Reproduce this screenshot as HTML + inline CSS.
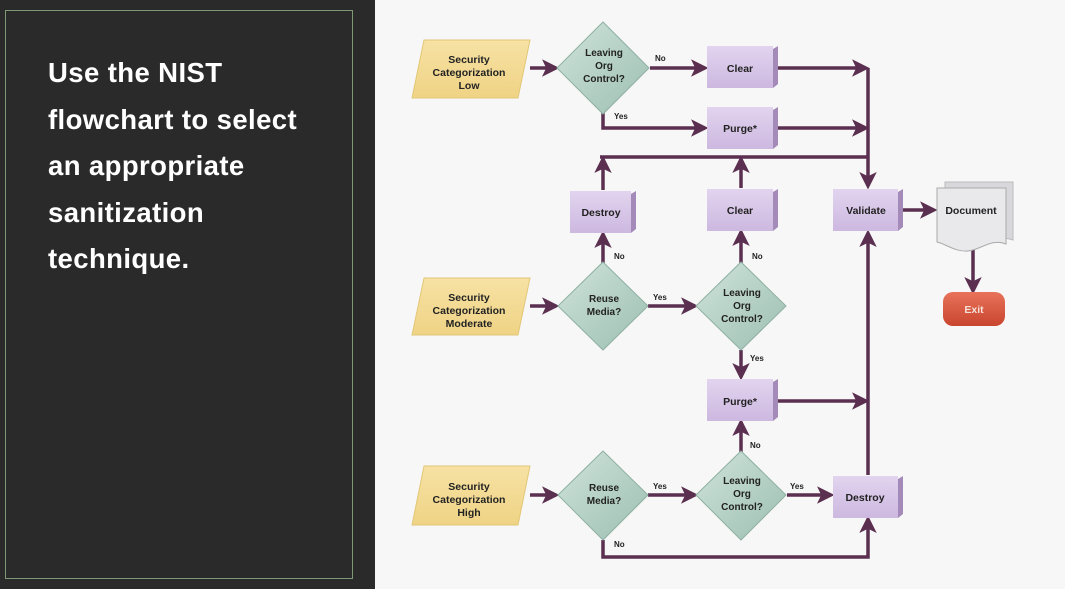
<!DOCTYPE html>
<html><head><meta charset="utf-8"><style>
html,body{margin:0;padding:0;width:1065px;height:589px;overflow:hidden;background:#f7f7f7}
#left{position:absolute;left:0;top:0;width:375px;height:589px;background:#2a2a2a}
#frame{position:absolute;left:5px;top:10px;width:346px;height:567px;border:1px solid #7d9a74}
#txt{position:absolute;left:48px;top:50px;color:#fff;font:bold 27.5px/46.5px "Liberation Sans",sans-serif;letter-spacing:0.4px}
svg{position:absolute;left:0;top:0}
text{font-family:"Liberation Sans",sans-serif;font-weight:bold;fill:#222}
</style></head><body>
<div id="left"><div id="frame"></div><div id="txt">Use the NIST<br>flowchart to select<br>an appropriate<br>sanitization<br>technique.</div></div>
<svg width="1065" height="589" viewBox="0 0 1065 589">
<defs>
<linearGradient id="pg" x1="0" y1="0" x2="0" y2="1"><stop offset="0" stop-color="#e2d4ef"/><stop offset="1" stop-color="#cdb8e0"/></linearGradient>
<linearGradient id="yg" x1="0" y1="0" x2="0" y2="1"><stop offset="0" stop-color="#f7e2a4"/><stop offset="1" stop-color="#efd385"/></linearGradient>
<linearGradient id="dg" x1="0" y1="0" x2="1" y2="1"><stop offset="0" stop-color="#cfe3da"/><stop offset="1" stop-color="#9dbfb2"/></linearGradient>
<linearGradient id="rg" x1="0" y1="0" x2="0" y2="1"><stop offset="0" stop-color="#e8735a"/><stop offset="1" stop-color="#c9452e"/></linearGradient>
<marker id="a" markerWidth="5" markerHeight="5" refX="4" refY="2.5" orient="auto" markerUnits="strokeWidth"><path d="M0,0 L5,2.5 L0,5 L1.2,2.5 z" fill="#5a2f50"/></marker>
</defs>
<g stroke="#5a2f50" stroke-width="3.5" fill="none">
<line x1="530" y1="68" x2="556" y2="68" marker-end="url(#a)"/>
<line x1="650" y1="68" x2="705" y2="68" marker-end="url(#a)"/>
<polyline points="603,112 603,128 705,128" marker-end="url(#a)"/>
<line x1="778" y1="68" x2="866" y2="68" marker-end="url(#a)"/>
<line x1="778" y1="128" x2="866" y2="128" marker-end="url(#a)"/>
<line x1="868" y1="68" x2="868" y2="186" marker-end="url(#a)"/>
<line x1="600" y1="157" x2="868" y2="157"/>
<line x1="603" y1="190" x2="603" y2="159" marker-end="url(#a)"/>
<line x1="741" y1="188" x2="741" y2="159" marker-end="url(#a)"/>
<line x1="903" y1="210" x2="934" y2="210" marker-end="url(#a)"/>
<line x1="973" y1="244" x2="973" y2="291" marker-end="url(#a)"/>
<line x1="868" y1="475" x2="868" y2="233" marker-end="url(#a)"/>
<line x1="530" y1="306" x2="556" y2="306" marker-end="url(#a)"/>
<line x1="603" y1="263" x2="603" y2="234" marker-end="url(#a)"/>
<line x1="648" y1="306" x2="695" y2="306" marker-end="url(#a)"/>
<line x1="741" y1="263" x2="741" y2="232" marker-end="url(#a)"/>
<line x1="741" y1="350" x2="741" y2="377" marker-end="url(#a)"/>
<line x1="778" y1="401" x2="866" y2="401" marker-end="url(#a)"/>
<line x1="530" y1="495" x2="556" y2="495" marker-end="url(#a)"/>
<line x1="648" y1="495" x2="695" y2="495" marker-end="url(#a)"/>
<line x1="741" y1="452" x2="741" y2="422" marker-end="url(#a)"/>
<line x1="787" y1="495" x2="831" y2="495" marker-end="url(#a)"/>
<polyline points="603,540 603,557 868,557 868,519" marker-end="url(#a)"/>
</g>
<g stroke="#e2c777" stroke-width="1">
<polygon points="424,40 530,40 518,98 412,98" fill="url(#yg)"/>
<polygon points="424,278 530,278 518,335 412,335" fill="url(#yg)"/>
<polygon points="424,466 530,466 518,525 412,525" fill="url(#yg)"/>
</g>
<g font-size="10.5" text-anchor="middle">
<text x="469" y="63">Security</text><text x="469" y="76">Categorization</text><text x="469" y="89">Low</text>
<text x="469" y="301">Security</text><text x="469" y="314">Categorization</text><text x="469" y="327">Moderate</text>
<text x="469" y="490">Security</text><text x="469" y="503">Categorization</text><text x="469" y="516">High</text>
</g>
<g fill="url(#dg)" stroke="#8fb0a3" stroke-width="1">
<polygon points="603,22 649,68 603,114 557,68"/>
<polygon points="603,262 648,306 603,350 558,306"/>
<polygon points="741,262 786,306 741,350 696,306"/>
<polygon points="603,451 648,495 603,540 558,495"/>
<polygon points="741,451 786,495 741,540 696,495"/>
</g>
<g font-size="10" text-anchor="middle">
<text x="604" y="56">Leaving</text><text x="604" y="69">Org</text><text x="604" y="82">Control?</text>
<text x="604" y="302">Reuse</text><text x="604" y="315">Media?</text>
<text x="742" y="296">Leaving</text><text x="742" y="309">Org</text><text x="742" y="322">Control?</text>
<text x="604" y="491">Reuse</text><text x="604" y="504">Media?</text>
<text x="742" y="484">Leaving</text><text x="742" y="497">Org</text><text x="742" y="510">Control?</text>
</g>
<g>
<g transform="translate(707,46)"><rect width="66" height="42" fill="url(#pg)"/><polygon points="66,3 71,0 71,38 66,42" fill="#a48ab9"/></g>
<g transform="translate(707,107)"><rect width="66" height="42" fill="url(#pg)"/><polygon points="66,3 71,0 71,38 66,42" fill="#a48ab9"/></g>
<g transform="translate(570,191)"><rect width="61" height="42" fill="url(#pg)"/><polygon points="61,3 66,0 66,38 61,42" fill="#a48ab9"/></g>
<g transform="translate(707,189)"><rect width="66" height="42" fill="url(#pg)"/><polygon points="66,3 71,0 71,38 66,42" fill="#a48ab9"/></g>
<g transform="translate(833,189)"><rect width="65" height="42" fill="url(#pg)"/><polygon points="65,3 70,0 70,38 65,42" fill="#a48ab9"/></g>
<g transform="translate(707,379)"><rect width="66" height="42" fill="url(#pg)"/><polygon points="66,3 71,0 71,38 66,42" fill="#a48ab9"/></g>
<g transform="translate(833,476)"><rect width="65" height="42" fill="url(#pg)"/><polygon points="65,3 70,0 70,38 65,42" fill="#a48ab9"/></g>
</g>
<g font-size="10.5" text-anchor="middle">
<text x="740" y="72">Clear</text><text x="740" y="132">Purge*</text>
<text x="601" y="216">Destroy</text><text x="740" y="214">Clear</text>
<text x="866" y="214">Validate</text><text x="740" y="405">Purge*</text>
<text x="865" y="501">Destroy</text>
</g>
<path d="M945,182 L1013,182 L1013,240 C1000,235 985,244 972,246 C960,248 952,240 945,238 Z" fill="#d8d8dc" stroke="#bbb"/>
<path d="M937,188 L1006,188 L1006,244 C992,238 980,250 968,251 C955,252 946,244 937,242 Z" fill="#e9e9ec" stroke="#aaa"/>
<text x="971" y="214" font-size="10.5" text-anchor="middle">Document</text>
<rect x="943" y="292" width="62" height="34" rx="10" fill="url(#rg)"/>
<text x="974" y="313" font-size="10.5" text-anchor="middle" style="fill:#f6e1d9">Exit</text>
<g font-size="8" style="font-weight:bold">
<text x="655" y="61">No</text><text x="614" y="119">Yes</text>
<text x="614" y="259">No</text><text x="752" y="259">No</text>
<text x="653" y="300">Yes</text><text x="750" y="361">Yes</text>
<text x="750" y="448">No</text><text x="653" y="489">Yes</text>
<text x="790" y="489">Yes</text><text x="614" y="547">No</text>
</g>
</svg>
</body></html>
